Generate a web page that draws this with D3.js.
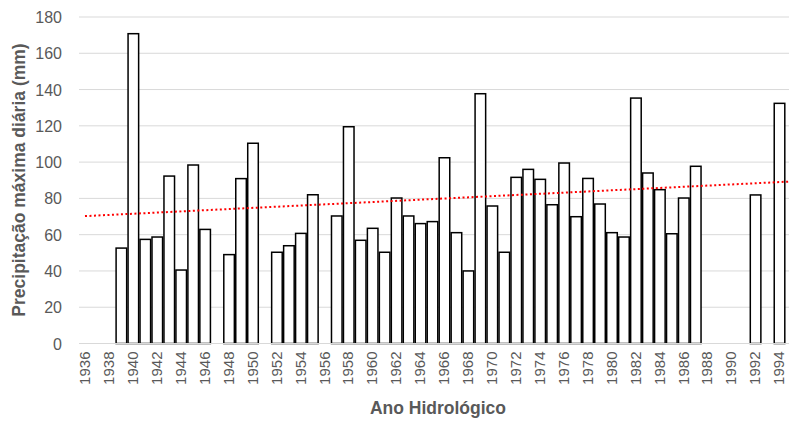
<!DOCTYPE html>
<html>
<head>
<meta charset="utf-8">
<script src="https://cdn.jsdelivr.net/npm/d3@7"></script>
<style>
  html, body { margin: 0; padding: 0; background: #fff; }
  svg { display: block; font-family: Arial, "Liberation Sans", sans-serif; }
</style>
</head>
<body>
<svg id="chart" width="789" height="421"></svg>
<script>
// Data
const years = [];
for (let yr = 1936; yr <= 1994; yr++) years.push(yr);
const barYears = [1939,1940,1941,1942,1943,1944,1945,1946,1948,1949,1950,1952,1953,1954,1955,
  1957,1958,1959,1960,1961,1962,1963,1964,1965,1966,1967,1968,1969,1970,1971,1972,1973,1974,
  1975,1976,1977,1978,1979,1980,1981,1982,1983,1984,1985,1986,1987,1992,1994];
const barValues = [52.6,170.8,57.4,58.7,92.3,40.5,98.4,62.9,49.0,90.9,110.4,50.3,53.9,60.7,82.0,
  70.3,119.5,56.9,63.5,50.3,80.2,70.3,66.1,67.2,102.4,61.1,40.0,137.7,75.8,50.3,91.6,96.0,90.5,
  76.5,99.5,69.9,91.0,76.9,61.1,58.7,135.3,94.0,84.8,60.5,80.2,97.7,81.9,132.4];
const yTicks = [0,20,40,60,80,100,120,140,160,180];
const xTickYears = years.filter(yr => (yr - 1936) % 2 === 0);

(function () {
const svg = d3.select("#chart");
const pL = 79, pR = 785, pT = 17, pB = 343.5;

const x = d3.scaleBand().domain(years).range([pL, pR]).paddingInner(0).paddingOuter(0);
const y = d3.scaleLinear().domain([0, 180]).range([pB, pT]);

// gridlines
svg.append("g").selectAll("line").data(yTicks).join("line")
  .attr("x1", pL).attr("x2", 789)
  .attr("y1", d => y(d)).attr("y2", d => y(d))
  .attr("stroke", "#d9d9d9").attr("stroke-width", 1);

// y axis labels
const yAxis = d3.axisLeft(y).tickValues(yTicks).tickSize(0).tickPadding(0);
const gy = svg.append("g").attr("transform", `translate(62,0)`).call(yAxis);
gy.select(".domain").remove();
gy.selectAll("text").attr("fill", "#595959").style("font-size", "16px")
  .style("font-family", "Arial, 'Liberation Sans', sans-serif").attr("dy", "0.35em");

// bars
const data = barYears.map((yr, i) => ({ yr, v: barValues[i] }));
const bw = x.bandwidth();
svg.append("g").selectAll("rect").data(data).join("rect")
  .attr("x", d => x(d.yr) + 1.2)
  .attr("width", bw - 1.4)
  .attr("y", d => y(d.v))
  .attr("height", d => y(0) - y(d.v))
  .attr("fill", "#fff").attr("stroke", "#000").attr("stroke-width", 1.5);

// x axis
const xAxis = d3.axisBottom(x).tickValues(xTickYears).tickSize(0).tickPadding(0);
const gx = svg.append("g").attr("transform", `translate(0,${pB})`).call(xAxis);
gx.select(".domain").remove();
gx.selectAll("text")
  .attr("fill", "#595959").style("font-size", "15px")
  .style("font-family", "Arial, 'Liberation Sans', sans-serif")
  .attr("text-anchor", "end")
  .attr("transform", "rotate(-90)")
  .attr("x", -8).attr("y", 0).attr("dy", "0.35em");

// baseline
svg.append("line").attr("x1", pL).attr("x2", 789)
  .attr("y1", y(0)).attr("y2", y(0)).attr("stroke", "#d9d9d9").attr("stroke-width", 1);

// linear trendline (least squares on year)
const n = barYears.length;
const mx = d3.mean(barYears), my = d3.mean(barValues);
let sxy = 0, sxx = 0;
for (let i = 0; i < n; i++) { sxy += (barYears[i]-mx)*(barValues[i]-my); sxx += (barYears[i]-mx)**2; }
const slope = sxy / sxx, icpt = my - slope * mx;
const xCenter = yr => x(yr) + bw / 2;
const yrAtPx = px => 1936 + (px - xCenter(1936)) / x.step();
const t0 = 1936, t1 = yrAtPx(789);
svg.append("line")
  .attr("x1", xCenter(1936)).attr("y1", y(icpt + slope * t0))
  .attr("x2", 789).attr("y2", y(icpt + slope * t1))
  .attr("stroke", "#ff0000").attr("stroke-width", 2).attr("stroke-dasharray", "2,2.5");

// axis titles
svg.append("text").attr("x", 438).attr("y", 414).attr("text-anchor", "middle")
  .attr("fill", "#595959").style("font-size", "17.5px").style("font-weight", "bold")
  .text("Ano Hidrológico");
svg.append("text").attr("transform", "translate(25,180) rotate(-90)").attr("text-anchor", "middle")
  .attr("fill", "#595959").style("font-size", "17.5px").style("font-weight", "bold")
  .text("Precipitação máxima diária (mm)");
})();
</script>
</body>
</html>
